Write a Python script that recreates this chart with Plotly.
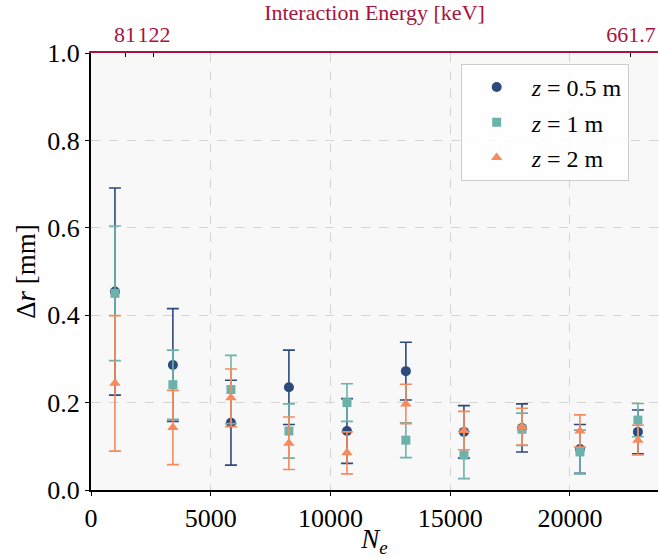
import plotly.graph_objects as go

# Number of electrons per event (x positions of each measurement)
n_e = [1000, 3420, 5845, 8265, 10690, 13150, 15575, 18000, 20420, 22840]

# Radial resolution [mm] and uncertainties for each source distance
dr_05 = [0.454, 0.286, 0.154, 0.235, 0.135, 0.272, 0.133, 0.142, 0.094, 0.133]
err_05 = [0.237, 0.129, 0.097, 0.085, 0.074, 0.066, 0.060, 0.055, 0.056, 0.050]

dr_1 = [0.450, 0.241, 0.230, 0.135, 0.200, 0.114, 0.080, 0.139, 0.087, 0.160]
err_1 = [0.154, 0.079, 0.078, 0.062, 0.043, 0.040, 0.054, 0.037, 0.050, 0.038]

dr_2 = [0.244, 0.143, 0.211, 0.107, 0.085, 0.197, 0.136, 0.145, 0.135, 0.114]
err_2 = [0.155, 0.085, 0.066, 0.060, 0.048, 0.045, 0.044, 0.042, 0.037, 0.034]

# Secondary (top) axis: interaction energies of the calibration lines
energy_pos = [1420, 2630, 22550]
energy_text = ["81", "122", "661.7"]

x_ticks = [0, 5000, 10000, 15000, 20000]
y_ticks = [0.0, 0.2, 0.4, 0.6, 0.8, 1.0]

FONT = "Liberation Serif"
CRIMSON = "#a8123e"

series = [
    ("<i>z</i> = 0.5 m", dr_05, err_05, "#2c4a7c", "circle", 10),
    ("<i>z</i> = 1 m", dr_1, err_1, "#6db2aa", "square", 9),
    ("<i>z</i> = 2 m", dr_2, err_2, "#f48a5e", "triangle-up", 10),
]

fig = go.Figure()
for i, (name, y, e, color, symbol, size) in enumerate(series):
    fig.add_trace(go.Scatter(
        x=n_e, y=y, name=name, mode="markers", legendgroup=f"g{i}",
        marker=dict(color=color, symbol=symbol, size=size),
        error_y=dict(type="data", array=e, visible=True,
                     color=color, thickness=1.6, width=6),
    ))

# invisible trace carrying the top energy axis
fig.add_trace(go.Scatter(x=[energy_pos[0]], y=[0], xaxis="x2", mode="markers",
                         marker=dict(opacity=0), showlegend=False,
                         hoverinfo="skip"))

x_range = [0, 23680]

fig.update_layout(
    width=660, height=558,
    margin=dict(l=91, r=2, t=53, b=68),
    paper_bgcolor="white",
    plot_bgcolor="#f8f8f8",
    font=dict(family=FONT, size=26, color="black"),
    xaxis=dict(
        range=x_range, tickvals=x_ticks, ticktext=[str(v) for v in x_ticks],
        showgrid=True, gridcolor="#d4d4d4", griddash="dash", gridwidth=1,
        zeroline=False, showline=True, linecolor="black", linewidth=2,
        ticks="outside", ticklen=4, tickcolor="black", tickangle=0,
        automargin=False,
        title=dict(text="<i>N<sub>e</sub></i>", standoff=6,
                   font=dict(family=FONT, size=27)),
        tickfont=dict(family=FONT, size=26),
    ),
    yaxis=dict(
        range=[0, 1.0], tickvals=y_ticks, tickformat=".1f",
        showgrid=True, gridcolor="#d4d4d4", griddash="dash", gridwidth=1,
        zeroline=False, showline=True, linecolor="black", linewidth=2,
        ticks="outside", ticklen=4, tickcolor="black", automargin=False,
        title=dict(text="Δ<i>r</i> [mm]", standoff=4,
                   font=dict(family=FONT, size=27)),
        tickfont=dict(family=FONT, size=26),
    ),
    xaxis2=dict(
        overlaying="x", side="top", range=x_range,
        tickvals=energy_pos, ticktext=energy_text, tickangle=0,
        automargin=False,
        showgrid=False, zeroline=False,
        showline=True, linecolor=CRIMSON, linewidth=2,
        ticks="inside", ticklen=4, tickcolor="black",
        tickfont=dict(family=FONT, size=22, color=CRIMSON),
        title=dict(text="Interaction Energy [keV]", standoff=4,
                   font=dict(family=FONT, size=22, color=CRIMSON)),
    ),
    legend=dict(
        x=0.652, y=0.975, xanchor="left", yanchor="top",
        bgcolor="rgba(255,255,255,0.85)", bordercolor="#cccccc",
        borderwidth=1, font=dict(family=FONT, size=24), itemwidth=60,
        tracegroupgap=1,
    ),
)

fig.write_html("out.html")
